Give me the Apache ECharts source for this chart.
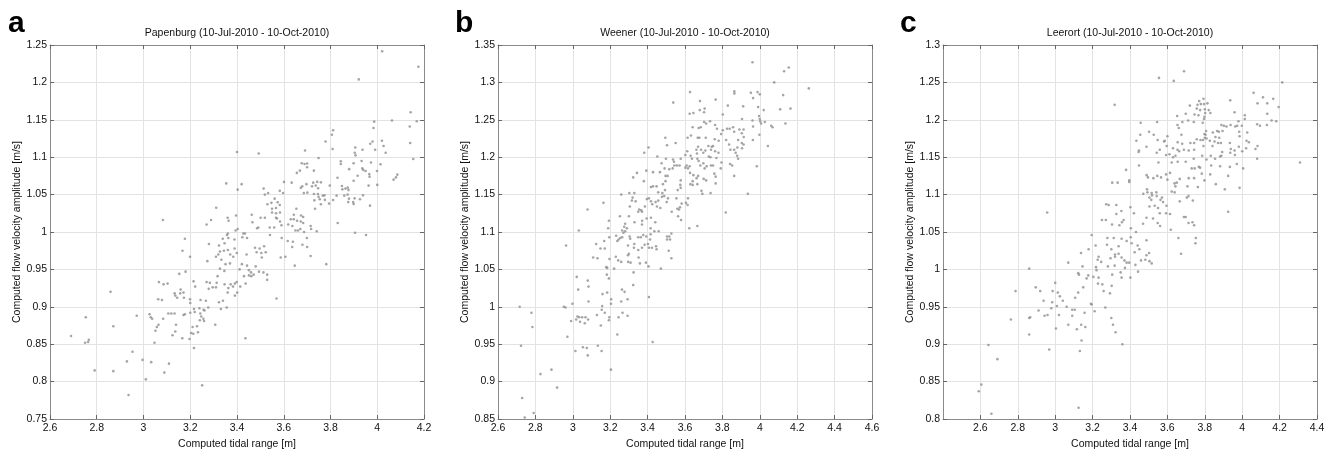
<!DOCTYPE html>
<html>
<head>
<meta charset="utf-8">
<script src="https://cdn.jsdelivr.net/npm/echarts@6/dist/echarts.min.js"></script>
<style>
html,body{margin:0;padding:0;background:#fff;}
#chart{width:1338px;height:450px;}
</style>
</head>
<body>
<div id="chart"></div>
<script>
// ---------- DATA ----------
const panelLetters = ['a', 'b', 'c'];
const panelTitles = [
  'Papenburg (10-Jul-2010 - 10-Oct-2010)',
  'Weener (10-Jul-2010 - 10-Oct-2010)',
  'Leerort (10-Jul-2010 - 10-Oct-2010)'
];
const xAxisName = 'Computed tidal range [m]';
const yAxisName = 'Computed flow velocity amplitude [m/s]';
// [min, max, interval]
const xRanges = [[2.6, 4.2, 0.2], [2.6, 4.6, 0.2], [2.4, 4.4, 0.2]];
const yRanges = [[0.75, 1.25, 0.05], [0.85, 1.35, 0.05], [0.8, 1.3, 0.05]];
const showMinXLabel = [true, true, false];

// [tidal range, velocity amplitude]
const papenburg = [
[3.083,1.016],[3.289,1.016],[3.270,1.010],[3.360,1.019],[3.364,1.015],[3.396,1.022],[3.463,1.023],[3.501,1.019],[3.519,1.019],[3.466,1.013],[3.486,1.005],[3.491,1.006],[3.540,1.006],[3.559,1.006],[3.567,1.019],[3.571,1.018],[3.584,1.014],[3.590,1.009],[3.584,1.026],[3.550,1.026],[3.567,1.025],[3.619,1.010],[3.630,1.017],[3.643,1.017],[3.643,1.023],[3.657,1.015],[3.673,1.014],[3.683,1.012],[3.674,1.022],[3.683,1.020],[3.637,1.008],[3.650,1.002],[3.661,1.002],[3.671,1.004],[3.687,1.000],[3.403,1.004],[3.394,1.002],
[3.427,0.998],[3.434,0.998],[3.443,0.992],[3.423,0.993],[3.361,0.998],[3.363,0.992],[3.339,0.991],[3.357,0.996],[3.389,0.990],[3.323,0.982],[3.347,0.985],[3.280,0.984],[3.177,0.991],[3.167,0.975],[3.199,0.967],[3.327,0.974],[3.344,0.975],[3.361,0.976],[3.371,0.970],[3.384,0.967],[3.399,0.972],[3.390,0.978],[3.441,0.970],[3.477,0.979],[3.497,0.978],[3.516,0.981],[3.484,0.973],[3.504,0.972],[3.506,0.966],[3.523,0.973],[3.587,0.966],[3.607,0.967],[3.617,0.988],[3.639,0.987],[3.636,0.980],[3.680,0.983],[3.647,0.955],[3.541,0.996],[3.591,0.992],[3.310,0.967],[3.320,0.970],[3.333,0.963],[3.273,0.961],[3.351,0.957],[3.370,0.958],[3.421,0.957],[3.443,0.955],[3.451,0.949],[3.460,0.946],[3.480,0.954],[3.494,0.947],[3.513,0.946],[3.411,0.950],[3.327,0.951],[3.346,0.948],
[3.153,0.944],[3.180,0.947],[3.529,0.943],[3.529,0.936],[3.317,0.941],[3.284,0.932],[3.270,0.933],[3.313,0.932],[3.296,0.926],[3.279,0.924],[3.310,0.926],[3.347,0.930],[3.363,0.925],[3.373,0.930],[3.360,0.919],[3.383,0.927],[3.391,0.931],[3.399,0.933],[3.414,0.927],[3.391,0.915],[3.401,0.919],[3.430,0.941],[3.451,0.942],[3.461,0.941],[3.471,0.943],[3.437,0.931],[3.066,0.933],[3.086,0.930],[3.103,0.931],[3.133,0.918],[3.136,0.915],[3.157,0.918],[3.171,0.919],[3.173,0.912],[3.144,0.912],[3.159,0.923],[3.063,0.910],[3.079,0.909],[3.199,0.910],[3.200,0.905],[3.214,0.934],[3.221,0.927],[3.244,0.909],[3.267,0.908],[3.323,0.906],[3.340,0.908],[3.569,0.911],[2.859,0.920],
[3.216,0.897],[3.239,0.898],[3.257,0.896],[3.277,0.899],[3.261,0.895],[3.243,0.891],[3.219,0.893],[3.200,0.892],[3.331,0.897],[3.356,0.899],[3.119,0.891],[3.133,0.891],[3.106,0.891],[3.171,0.889],[3.177,0.890],[3.026,0.890],[3.031,0.886],[3.037,0.884],[2.971,0.888],[3.084,0.884],[3.241,0.882],[3.256,0.884],[3.259,0.881],[3.247,0.887],[3.307,0.876],[3.229,0.874],[3.210,0.873],[3.204,0.865],[3.064,0.876],[3.057,0.873],[3.051,0.868],[3.139,0.876],[3.136,0.867],[3.124,0.862],[3.166,0.858],[3.197,0.857],[3.233,0.866],[3.213,0.864],[2.753,0.886],[2.871,0.874],[3.436,0.858],[2.690,0.861],[2.750,0.852],[2.763,0.853],[2.766,0.856],[3.047,0.852],
[3.216,0.845],[2.953,0.840],[2.929,0.827],[2.996,0.829],[3.033,0.826],[3.109,0.824],[2.791,0.815],[2.871,0.814],[3.089,0.812],[3.010,0.803],[3.251,0.795],[2.936,0.782],
[3.715,1.008],[3.717,1.004],[3.741,1.001],[3.699,0.992],[3.715,0.968],[3.782,0.957],[3.831,1.012],[3.905,0.999],[3.952,0.996],[3.700,0.980],
[4.021,1.2415],[4.176,1.221],[3.921,1.204],[4.143,1.160],[4.063,1.149],[3.987,1.1475],[4.169,1.148],[4.139,1.141],[3.984,1.139],[3.811,1.136],[3.806,1.130],[3.779,1.121],[4.141,1.119],[4.020,1.122],[3.980,1.121],[3.970,1.118],[4.027,1.115],[3.991,1.110],[4.036,1.106],[3.906,1.113],[3.937,1.110],[3.904,1.106],[3.907,1.1025],[3.809,1.111],[3.691,1.109],[3.400,1.107],[3.493,1.105],[3.749,1.099],[4.154,1.0976],[3.844,1.0945],[3.844,1.091],[3.899,1.092],[3.933,1.095],[3.973,1.093],[4.014,1.0905],[3.677,1.092],[3.689,1.091],[3.700,1.0915],[3.700,1.0865],[3.729,1.082],[3.669,1.082],[3.656,1.079],[3.880,1.084],[3.936,1.085],[3.940,1.083],[3.950,1.0815],[3.916,1.0753],[3.966,1.0775],[3.967,1.074],[3.899,1.0686],[3.999,1.0815],[4.000,1.063],[4.070,1.070],[4.086,1.0767],[4.080,1.073],[3.830,1.0726],[3.797,1.062],[3.963,1.062],[3.354,1.065],[3.420,1.064],[3.403,1.0566],[3.514,1.058],[3.519,1.050],[3.533,1.052],[3.601,1.067],[3.634,1.066],[3.583,1.055],[3.597,1.052],[3.673,1.059],[3.679,1.061],[3.697,1.064],[3.701,1.0526],[3.721,1.061],[3.726,1.066],[3.743,1.067],[3.759,1.0664],[3.737,1.062],[3.747,1.0584],[3.686,1.052],[3.729,1.0508],[3.746,1.0508],[3.767,1.0486],[3.774,1.049],[3.749,1.047],[3.754,1.0437],[3.731,1.0423],[3.759,1.037],[3.734,1.031],[3.776,1.043],[3.811,1.0428],[3.849,1.0615],[3.851,1.057],[3.864,1.058],[3.874,1.0593],[3.877,1.056],[3.873,1.050],[3.859,1.0486],[3.826,1.0486],[3.879,1.0446],[3.903,1.045],[3.926,1.0437],[3.939,1.049],[3.897,1.040],[3.899,1.0375],[3.876,1.040],[3.969,1.0352],[3.547,1.039],[3.530,1.037],[3.561,1.0446],[3.574,1.0397],[3.583,1.036],[3.550,1.031],[3.567,1.032],[3.654,1.031],[3.794,1.038],[3.311,1.0325]
];

const weener = [
[3.320,1.146],[3.316,1.142],[3.336,1.141],[3.305,1.134],[3.355,1.130],[3.366,1.129],[3.350,1.127],[3.370,1.127],[3.386,1.134],[3.396,1.144],[3.407,1.145],[3.418,1.141],[3.425,1.137],[3.443,1.140],[3.457,1.142],[3.468,1.132],[3.450,1.134],[3.477,1.147],[3.489,1.148],[3.502,1.140],[3.509,1.145],[3.529,1.127],[3.554,1.145],[3.559,1.131],[3.568,1.130],[3.573,1.133],[3.582,1.138],[3.605,1.139],[3.616,1.145],[3.614,1.136],[3.164,1.139],[3.079,1.130],
[3.252,1.121],[3.300,1.121],[3.280,1.111],[3.275,1.107],[3.330,1.113],[3.371,1.115],[3.370,1.110],[3.395,1.118],[3.441,1.113],[3.418,1.119],[3.416,1.105],[3.436,1.101],[3.459,1.101],[3.563,1.121],[3.579,1.116],[3.623,1.105],[3.666,1.108],[3.193,1.115],[3.189,1.105],[3.032,1.102],[3.289,1.105],[3.264,1.102],
[2.964,1.082],[3.125,1.084],[3.168,1.088],[3.148,1.078],[3.171,1.078],[3.195,1.093],[3.232,1.095],[3.245,1.090],[3.238,1.088],[3.254,1.092],[3.264,1.093],[3.271,1.099],[3.280,1.101],[3.304,1.094],[3.307,1.091],[3.350,1.093],[3.364,1.093],[3.377,1.096],[3.393,1.094],[3.416,1.097],[3.413,1.090],[3.327,1.079],[3.350,1.076],[3.295,1.082],[3.329,1.084],[3.370,1.079],[3.384,1.083],[3.402,1.084],[3.407,1.079],[3.423,1.079],[3.445,1.081],[3.448,1.077],[3.504,1.094],[3.516,1.094],[3.527,1.098],[3.504,1.090],[3.520,1.090],[3.513,1.075],[3.527,1.065],
[3.109,1.066],[3.132,1.065],[3.196,1.064],[3.230,1.067],[3.243,1.062],[3.259,1.060],[3.295,1.069],[3.300,1.071],[3.296,1.060],[3.309,1.059],[3.352,1.066],[3.359,1.058],[3.391,1.059],[3.405,1.054],[3.471,1.051],[3.179,1.053],[3.184,1.052],[3.221,1.051],
[3.325,1.046],[3.021,1.040],[3.080,1.035],[3.182,1.043],[3.193,1.038],[3.084,1.027],[3.029,1.023],[3.323,1.029],[3.263,1.023],[3.277,1.020],[3.159,1.017],[3.184,1.019],[3.205,1.010],[3.084,1.007],[3.259,1.007],[3.293,1.010],[3.407,1.013],[3.204,1.004],[2.998,1.004],[2.952,1.000],[2.961,0.999],[3.157,1.001],[3.155,0.996],[2.716,1.000],
[2.779,0.992],[3.171,0.992],[3.266,0.992],[3.293,0.988],[3.025,0.987],[3.034,0.986],[3.050,0.986],[3.068,0.986],[3.082,0.983],[3.018,0.983],[2.991,0.981],[3.039,0.980],[3.064,0.978],[3.129,0.989],[3.195,0.986],[3.245,0.986],[3.193,0.982],[3.150,0.975],[2.784,0.973],[3.238,0.963],[2.971,0.960],[3.427,0.953],[2.723,0.948],
[3.014,0.941],[3.054,0.946],[3.075,0.945],[3.080,0.935],[3.134,0.948],[3.154,0.941],[3.204,0.916],[2.886,0.916],[2.827,0.910],[2.916,0.892],[2.729,0.878],[2.791,0.858],[2.743,0.852],
[3.961,1.327],[4.155,1.320],[4.130,1.315],[4.262,1.292],[4.077,1.300],[3.627,1.287],[3.864,1.288],[3.864,1.285],[3.952,1.286],[3.988,1.287],[4.000,1.284],[3.964,1.279],[4.125,1.283],[3.537,1.273],[3.680,1.275],[3.764,1.277],[3.705,1.265],[3.679,1.263],[3.702,1.260],[3.625,1.258],[3.645,1.259],[3.829,1.269],[3.911,1.268],[3.991,1.267],[4.021,1.263],[4.109,1.264],[4.164,1.265],[3.802,1.257],[3.905,1.251],[3.961,1.249],[3.996,1.255],[4.000,1.251],[4.002,1.248],[4.007,1.245],[4.027,1.247],[4.137,1.245],[3.702,1.247],[3.713,1.245],[3.734,1.248],[3.673,1.239],[3.684,1.240],[3.641,1.240],[3.761,1.243],[3.802,1.236],[3.771,1.238],[3.825,1.238],[3.839,1.238],[3.857,1.240],[3.863,1.234],[3.891,1.237],[3.913,1.237],[3.904,1.232],[3.914,1.227],[3.964,1.241],[3.998,1.230],[3.963,1.223],[4.061,1.242],[4.068,1.240],[4.043,1.215],[3.495,1.226],[3.614,1.226],[3.632,1.229],[3.668,1.226],[3.677,1.226],[3.711,1.226],[3.550,1.219],[3.504,1.216],[3.661,1.210],[3.670,1.214],[3.664,1.205],[3.686,1.210],[3.698,1.206],[3.709,1.209],[3.725,1.215],[3.743,1.214],[3.750,1.215],[3.739,1.210],[3.759,1.224],[3.793,1.231],[3.780,1.222],[3.727,1.201],[3.736,1.200],[3.768,1.199],[3.761,1.208],[3.779,1.206],[3.843,1.210],[3.863,1.210],[3.871,1.206],[3.879,1.202],[3.884,1.198],[3.884,1.223],[3.904,1.219],[3.913,1.217],[3.880,1.213],[3.905,1.212],[3.820,1.223],[3.836,1.217],[3.602,1.203],[3.612,1.208],[3.637,1.198],[3.630,1.202],[3.577,1.198],[3.571,1.189],[3.666,1.198],[3.673,1.195],[3.682,1.189],[3.698,1.192],[3.705,1.185],[3.716,1.188],[3.452,1.201],[3.498,1.198],[3.382,1.206],[3.405,1.213],[3.536,1.197],[3.541,1.194],[3.739,1.189],[3.750,1.189],[3.795,1.193],[3.791,1.185],[3.841,1.191],[3.852,1.189],[3.863,1.175],[3.984,1.188],[3.475,1.192],[3.491,1.185],[3.516,1.184],[3.534,1.185],[3.543,1.189],[3.557,1.189],[3.466,1.180],[3.429,1.180],[3.323,1.173],[3.343,1.179],[3.393,1.182],[3.380,1.168],[3.496,1.175],[3.507,1.175],[3.496,1.168],[3.482,1.164],[3.602,1.186],[3.609,1.189],[3.616,1.185],[3.625,1.188],[3.627,1.179],[3.645,1.176],[3.662,1.172],[3.670,1.175],[3.700,1.171],[3.713,1.169],[3.757,1.178],[3.764,1.174],[3.764,1.165],[3.641,1.168],[3.641,1.163],[3.666,1.164],[3.629,1.164],[3.577,1.169],[3.575,1.163],[3.577,1.159],[3.561,1.156],[3.429,1.161],[3.448,1.161],[3.418,1.160],[3.457,1.153],[3.479,1.152],[3.493,1.156],[3.737,1.152],[3.688,1.155],[3.693,1.151],[3.259,1.150],[3.302,1.152],[3.329,1.152],[3.936,1.151],[3.818,1.126]
];

const leerort = [
[3.689,1.265],[3.555,1.256],[3.634,1.252],[4.214,1.250],[4.061,1.236],[4.111,1.230],[4.082,1.222],[4.134,1.222],[4.166,1.228],[4.195,1.217],[4.134,1.208],[3.936,1.226],[3.318,1.220],[3.793,1.228],[3.770,1.225],[3.761,1.220],[3.779,1.221],[3.796,1.221],[3.814,1.222],[3.720,1.219],[3.757,1.215],[3.775,1.213],[3.800,1.214],[3.802,1.209],[3.798,1.204],[3.821,1.213],[3.830,1.209],[3.698,1.208],[3.652,1.205],[3.745,1.207],[3.766,1.206],[3.741,1.197],[3.789,1.196],[3.796,1.201],[3.711,1.199],[3.680,1.197],[3.654,1.193],[3.457,1.196],[3.545,1.197],[3.959,1.210],[4.014,1.206],[4.014,1.201],[3.980,1.198],[3.998,1.192],[3.973,1.192],[3.984,1.184],[3.938,1.193],[3.963,1.191],[3.889,1.193],[3.902,1.192],[3.916,1.191],[3.895,1.185],[3.875,1.184],[3.866,1.185],[3.843,1.183],[3.807,1.185],[3.798,1.181],[4.080,1.194],[4.095,1.192],[4.157,1.199],[4.182,1.198],[4.132,1.193],[4.080,1.148],[4.309,1.143],[4.027,1.183],[4.036,1.170],[4.023,1.172],[3.986,1.178],[3.982,1.164],[4.021,1.162],[4.000,1.158],[4.071,1.161],[4.082,1.165],[3.934,1.169],[3.939,1.161],[3.959,1.159],[3.961,1.153],[3.936,1.156],[3.886,1.169],[3.893,1.157],[3.888,1.152],[3.857,1.177],[3.877,1.176],[3.852,1.171],[3.871,1.169],[3.841,1.165],[3.800,1.176],[3.809,1.175],[3.791,1.173],[3.777,1.173],[3.827,1.172],[3.793,1.165],[3.804,1.180],[3.757,1.174],[3.743,1.169],[3.723,1.169],[3.743,1.160],[3.714,1.159],[3.679,1.168],[3.688,1.160],[3.663,1.158],[3.654,1.160],[3.655,1.170],[3.675,1.180],[3.661,1.189],[3.600,1.178],[3.586,1.172],[3.582,1.171],[3.596,1.165],[3.548,1.173],[3.543,1.156],[3.527,1.180],[3.502,1.184],[3.559,1.160],[3.630,1.162],[3.593,1.153],[3.611,1.154],[3.630,1.150],[3.643,1.152],[3.488,1.164],[3.448,1.159],[3.446,1.157],[3.434,1.172],[3.455,1.180],[3.786,1.152],[3.741,1.148],[3.809,1.147],[3.832,1.152],[3.855,1.148],[3.882,1.151],[3.655,1.144],[3.623,1.143],[3.698,1.144],[3.768,1.137],[3.775,1.136],[3.730,1.135],[3.746,1.135],[3.834,1.139],[3.882,1.138],[3.934,1.137],[3.971,1.141],[4.005,1.135],[3.552,1.143],[3.448,1.139],[3.379,1.133],[3.396,1.119],[3.396,1.117],[3.305,1.116],[3.334,1.116],[3.489,1.126],[3.496,1.123],[3.525,1.122],[3.546,1.125],[3.566,1.123],[3.593,1.127],[3.614,1.129],[3.638,1.115],[3.650,1.116],[3.643,1.111],[3.600,1.120],[3.666,1.121],[3.714,1.122],[3.743,1.122],[3.784,1.128],[3.798,1.119],[3.829,1.127],[3.707,1.111],[3.763,1.110],[3.859,1.114],[3.907,1.107],[3.925,1.125],[3.986,1.109],[3.491,1.107],[3.471,1.101],[3.493,1.103],[3.516,1.102],[3.541,1.103],[3.504,1.096],[3.518,1.099],[3.543,1.098],[3.571,1.096],[3.563,1.093],[3.577,1.090],[3.514,1.093],[3.623,1.104],[3.639,1.103],[3.666,1.091],[3.704,1.096],[3.713,1.098],[3.736,1.092],[3.532,1.085],[3.550,1.082],[3.504,1.084],[3.559,1.075],[3.593,1.075],[3.614,1.074],[3.595,1.085],[3.688,1.070],[3.698,1.070],[3.713,1.062],[3.734,1.063],[3.743,1.059],[3.402,1.083],[3.421,1.075],[3.354,1.078],[3.327,1.074],[3.366,1.066],[3.357,1.063],[3.343,1.059],[3.304,1.060],[3.250,1.066],[3.271,1.066],[3.273,1.087],[3.286,1.086],[3.327,1.086],[3.925,1.077],[3.405,1.055],[3.488,1.069],[3.470,1.061],[2.957,1.076],[3.523,1.068],[3.548,1.062],[3.561,1.058],[3.618,1.053],
[3.195,1.046],[3.279,1.042],[3.313,1.042],[3.355,1.041],[3.404,1.043],[3.382,1.038],[3.409,1.035],[3.432,1.050],[3.488,1.039],[3.441,1.032],[3.450,1.027],[3.425,1.023],[3.216,1.032],[3.277,1.033],[3.339,1.031],[3.300,1.027],[3.179,1.027],[3.138,1.022],[3.070,1.009],[3.232,1.017],[3.227,1.013],[3.246,1.010],[3.296,1.015],[3.320,1.020],[3.339,1.021],[3.320,1.017],[3.355,1.016],[3.370,1.012],[3.382,1.009],[3.396,1.009],[3.459,1.012],[3.482,1.013],[3.488,1.019],[3.502,1.022],[3.504,1.011],[3.516,1.008],[3.429,1.006],[3.443,0.997],[3.282,1.004],[3.318,1.005],[3.146,1.004],[3.218,1.003],[3.221,0.999],[3.204,0.990],[3.232,0.989],[3.168,0.988],[3.177,0.992],[3.123,0.995],[3.127,0.993],[3.402,0.989],[3.305,0.993],[3.350,0.996],[3.355,0.989],[3.373,1.002],[3.229,0.981],[3.252,0.980],[3.150,0.976],[3.302,0.978],[3.259,0.971],[3.293,0.968],[3.000,0.982],[2.986,0.971],[3.014,0.969],[3.025,0.964],[2.984,0.956],[3.009,0.951],[3.041,0.958],[3.061,0.950],[2.920,0.971],[2.896,0.976],[2.938,0.958],[2.861,1.001],[2.788,0.971],[2.911,0.945],[2.943,0.938],[2.959,0.939],[2.861,0.935],[2.866,0.936],[2.861,0.913],[2.763,0.933],[2.979,0.948],[3.020,0.939],[3.091,0.946],[3.105,0.946],[3.107,0.962],[3.123,0.969],[3.157,0.942],[3.191,0.954],[3.195,0.953],[3.211,0.944],[3.070,0.926],[3.091,0.938],[3.139,0.926],[3.161,0.923],[3.116,0.920],[3.004,0.921],[3.268,0.949],[3.300,0.935],[3.309,0.926],[3.323,0.916],[3.359,0.900],[3.141,0.905],[2.968,0.893],[3.132,0.891],[2.643,0.899],[2.691,0.880],[2.605,0.846],[2.591,0.837],[2.659,0.807],[3.125,0.815],
[3.659,1.042],[3.673,1.021],[3.750,1.035],[3.752,1.042]
];
const panelData = [papenburg, weener, leerort];

// ---------- LAYOUT / STYLE ----------
const FONT = "'Liberation Sans', Arial, Helvetica, sans-serif";
const gridLefts = [50, 498, 943];
const letterLefts = [8, 455, 900];
const gridTop = 45, gridSize = 374;
const frameColor = '#8a8a8a';
const gridLineColor = '#e3e3e3';
const textColor = '#111';

const grids = [], xAxes = [], yAxes = [], series = [], graphics = [];
for (let i = 0; i < 3; i++) {
  grids.push({left: gridLefts[i], top: gridTop, width: gridSize, height: gridSize,
    containLabel: false, outerBoundsMode: 'none', show: false});
  const [xmin, xmax, xint] = xRanges[i];
  const [ymin, ymax, yint] = yRanges[i];
  const axisLine = {show: true, onZero: false, lineStyle: {color: frameColor, width: 1}};
  const tick = {show: true, inside: true, length: 4, lineStyle: {color: '#666'}};
  xAxes.push({
    gridIndex: i, type: 'value', min: xmin, max: xmax, interval: xint, position: 'bottom',
    axisLine, axisTick: tick,
    axisLabel: {color: textColor, fontSize: 10.5, fontFamily: FONT, margin: 4,
      showMinLabel: showMinXLabel[i], showMaxLabel: true,
      formatter: v => String(+v.toFixed(2))},
    splitLine: {show: true, lineStyle: {color: gridLineColor, width: 1}},
    name: xAxisName, nameLocation: 'middle', nameGap: 16,
    nameTextStyle: {color: textColor, fontSize: 10.5, fontFamily: FONT}
  });
  xAxes.push({
    gridIndex: i, type: 'value', min: xmin, max: xmax, interval: xint, position: 'top',
    axisLine, axisTick: tick, axisLabel: {show: false}, splitLine: {show: false}
  });
  yAxes.push({
    gridIndex: i, type: 'value', min: ymin, max: ymax, interval: yint, position: 'left',
    axisLine, axisTick: tick,
    axisLabel: {color: textColor, fontSize: 10.5, fontFamily: FONT, margin: 3,
      showMinLabel: true, showMaxLabel: true,
      formatter: v => String(+v.toFixed(2))},
    splitLine: {show: true, lineStyle: {color: gridLineColor, width: 1}},
    name: yAxisName, nameLocation: 'middle', nameGap: 27,
    nameTextStyle: {color: textColor, fontSize: 10.5, fontFamily: FONT}
  });
  yAxes.push({
    gridIndex: i, type: 'value', min: ymin, max: ymax, interval: yint, position: 'right',
    axisLine, axisTick: tick, axisLabel: {show: false}, splitLine: {show: false}
  });
  series.push({
    type: 'scatter', xAxisIndex: 2 * i, yAxisIndex: 2 * i,
    data: panelData[i], symbol: 'circle', symbolSize: 2.6,
    itemStyle: {color: '#8e8e8e'}, silent: true, animation: false
  });
  graphics.push({
    type: 'text', x: gridLefts[i] + gridSize / 2, y: 33,
    style: {text: panelTitles[i], fill: textColor, font: '10.5px ' + FONT,
      textAlign: 'center', textVerticalAlign: 'middle', align: 'center', verticalAlign: 'middle'}
  });
  graphics.push({
    type: 'text', x: letterLefts[i], y: 24,
    style: {text: panelLetters[i], fill: '#000', font: 'bold 30px ' + FONT,
      textAlign: 'left', textVerticalAlign: 'middle', align: 'left', verticalAlign: 'middle'}
  });
}

const chart = echarts.init(document.getElementById('chart'), null, {renderer: 'canvas'});
chart.setOption({
  backgroundColor: '#fff',
  animation: false,
  textStyle: {fontFamily: FONT},
  grid: grids,
  xAxis: xAxes,
  yAxis: yAxes,
  series: series,
  graphic: graphics
});
</script>
</body>
</html>
